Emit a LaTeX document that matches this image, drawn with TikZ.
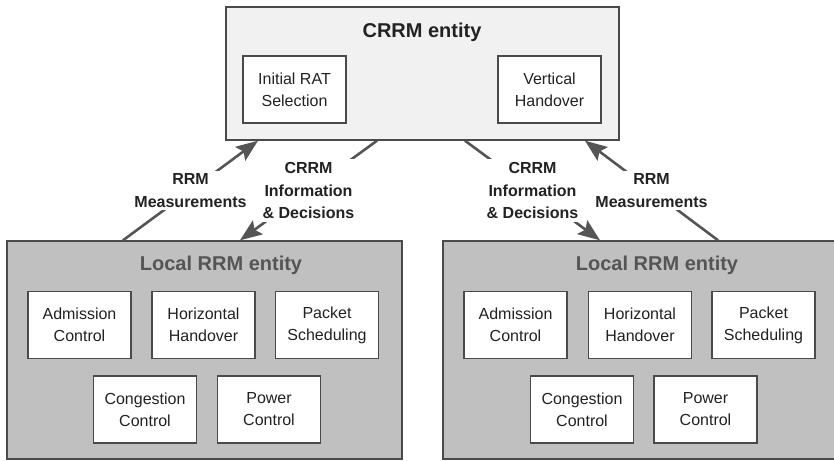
\documentclass[tikz,border=0pt]{standalone}
\usepackage{fontspec}
\setmainfont{Liberation Sans}
\usetikzlibrary{arrows.meta}
\definecolor{edge}{HTML}{4A4A4A}
\definecolor{linkgrey}{HTML}{555555}
\definecolor{toptint}{HTML}{F1F1F1}
\definecolor{localtint}{HTML}{C0C0C0}
\definecolor{ink}{HTML}{222222}
\definecolor{titleink}{HTML}{555555}
\tikzset{
  entity/.style={draw=edge, line width=1.4pt, rectangle, inner sep=0pt},
  func/.style={draw=edge, line width=1.3pt, fill=white, minimum width=103pt, minimum height=67pt,
    inner sep=0pt, align=center, font=\fontsize{16}{22}\selectfont, text=ink},
  entitytitle/.style={font=\fontsize{20}{24}\selectfont\bfseries, anchor=base},
  link/.style={draw=linkgrey, line width=2.6pt},
  linktip/.style={-{Stealth[length=22pt,width=17pt,inset=4pt]}},
  linklabel/.style={fill=white, align=center, font=\fontsize{16}{22.5}\selectfont\bfseries,
    text=ink, inner sep=3pt}
}
\begin{document}
\begin{tikzpicture}[x=1pt,y=-1pt]
\useasboundingbox (0,0) rectangle (834,460);
\clip (0,0) rectangle (834,460);
\fill[white] (0,0) rectangle (834,460);

% central CRRM entity
\node[entity, fill=toptint, minimum width=393pt, minimum height=133pt] (crrm) at (422.5,73.5) {};
\node[entitytitle, text=ink] (crrmtitle) at (422,37.5) {CRRM entity};
\node[func] (rat) at (294.5,89.5) {Initial RAT\\Selection};
\node[func] (vho) at (549.5,89.5) {Vertical\\Handover};

% two local RRM entities
\node[entity, fill=localtint, minimum width=395pt, minimum height=218pt] (loca) at (204.5,350) {};
\node[entitytitle, text=titleink] (locatitle) at (221,270) {Local RRM entity};
\node[func] (acA) at (79.5,325) {Admission\\Control};
\node[func] (hhA) at (203.5,325) {Horizontal\\Handover};
\node[func] (psA) at (327,325) {Packet\\Scheduling};
\node[func] (ccA) at (145,409.5) {Congestion\\Control};
\node[func] (pcA) at (269,409.5) {Power\\Control};

\node[entity, fill=localtint, minimum width=395pt, minimum height=218pt] (locb) at (640.5,350) {};
\node[entitytitle, text=titleink] (locbtitle) at (657,270) {Local RRM entity};
\node[func] (acB) at (515.5,325) {Admission\\Control};
\node[func] (hhB) at (640,325) {Horizontal\\Handover};
\node[func] (psB) at (763.5,325) {Packet\\Scheduling};
\node[func] (ccB) at (582,409.5) {Congestion\\Control};
\node[func] (pcB) at (705.5,409.5) {Power\\Control};

% attachment points on the entity borders
\coordinate (crrmA) at (crrm.south west -| 258,0);
\coordinate (crrmB) at (crrm.south west -| 377,0);
\coordinate (crrmC) at (crrm.south west -| 465,0);
\coordinate (crrmD) at (crrm.south west -| 585,0);
\coordinate (locaA) at (loca.north west -| 123,0);
\coordinate (locaB) at (loca.north west -| 240,0);
\coordinate (locbA) at (locb.north west -| 600,0);
\coordinate (locbB) at (locb.north west -| 718,0);

% signalling between the entities
\draw[link, linktip] (locaA) -- node[linklabel] {RRM\\Measurements} (crrmA);
\draw[link, linktip] (crrmB) -- node[linklabel] {CRRM\\Information\\\& Decisions} (locaB);
\draw[link, linktip] (crrmC) -- node[linklabel] {CRRM\\Information\\\& Decisions} (locbA);
\draw[link, linktip] (locbB) -- node[linklabel] {RRM\\Measurements} (crrmD);
\end{tikzpicture}
\end{document}
